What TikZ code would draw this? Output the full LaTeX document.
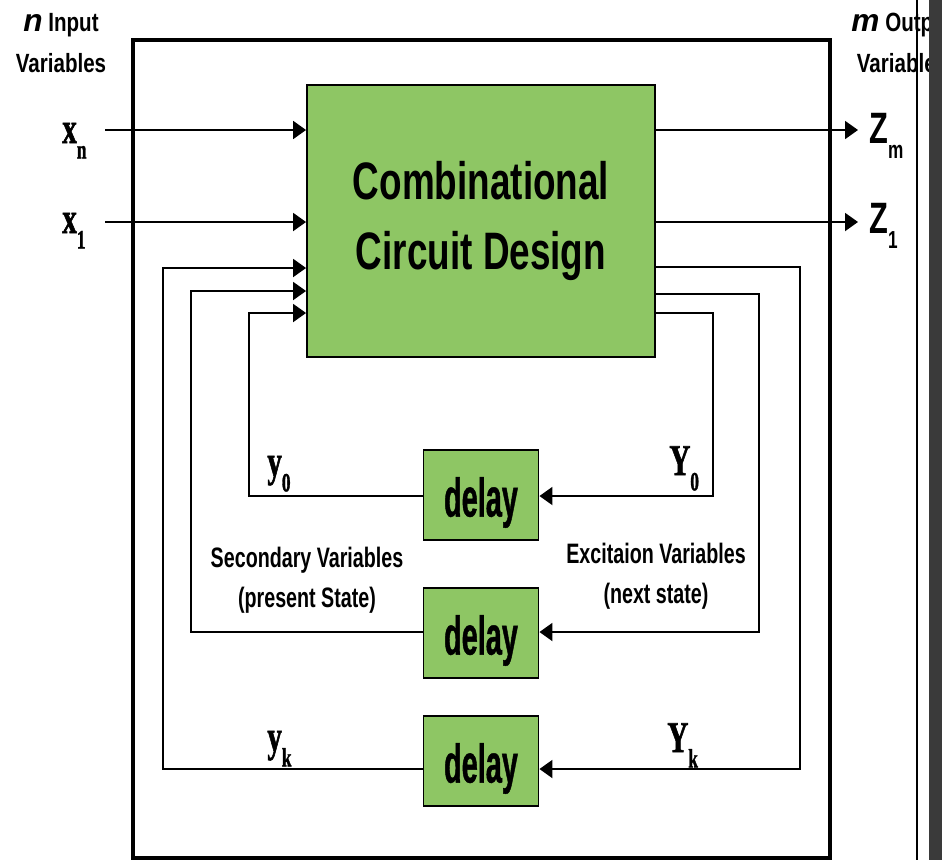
\documentclass[tikz,border=0pt]{standalone}
\usepackage{fontspec}
\setmainfont{Liberation Serif}
\setsansfont{Liberation Sans}
\newfontfamily\narrowsf[FakeStretch=0.70]{Liberation Sans}
\newfontfamily\headsf[FakeStretch=0.78]{Liberation Sans}
\newfontfamily\delaysf[FakeStretch=0.53, FakeBold=0.8]{Liberation Sans}
\newfontfamily\narrowrm[FakeStretch=0.66, FakeBold=1.2]{Liberation Serif}
\usetikzlibrary{arrows.meta}
\definecolor{blockgreen}{RGB}{142,198,100}
\definecolor{stripgray}{RGB}{58,58,58}

% variable name with a lowered index
\newcommand{\varlbl}[3][15]{#2\raisebox{-0.35em}{\fontsize{#1}{#1}\selectfont #3}}

\begin{document}
\begin{tikzpicture}[
        x=0.02cm, y=-0.02cm,
        block/.style={draw, line width=1.1pt, fill=blockgreen, inner sep=0pt},
        delaybox/.style={block, minimum width=2.3cm, minimum height=1.8cm, text height=31pt, text depth=6.5pt,
          font=\delaysf\bfseries\fontsize{31}{31}\selectfont},
        wire/.style={line width=1.1pt},
        rmlbl/.style={anchor=base west, inner sep=0pt, font=\narrowrm\bfseries\fontsize{25}{25}\selectfont},
        sflbl/.style={anchor=base west, inner sep=0pt, font=\narrowsf\bfseries\fontsize{25}{25}\selectfont},
        note/.style={inner sep=0pt, align=center, font=\narrowsf\bfseries\fontsize{16}{22.8}\selectfont},
        >={Triangle[length=0.26cm, width=0.36cm]}
      ]
        \useasboundingbox[fill=white] (0,0) rectangle (942,860);
        \clip (0,0) rectangle (942,860);

        % lanes of the feedback loops
        \def\xA{163} \def\xB{191} \def\xC{249}
        \def\xD{713} \def\xE{759} \def\xF{800}

        % outer frame
        \draw[line width=2.8pt] (133,40) rectangle (830,858);

        % ---- blocks ----
        \node[block, minimum width=6.96cm, minimum height=5.44cm, align=center,
          font=\narrowsf\bfseries\fontsize{30}{40}\selectfont] (comb) at (481,221) {Combinational\\Circuit Design};
        \node[delaybox] (d0) at (481,495) {delay};
        \node[delaybox] (d1) at (481,633) {delay};
        \node[delaybox] (dk) at (481,761) {delay};

        % ---- inputs and outputs ----
        \coordinate (xnin) at (105,130);
        \coordinate (x1in) at (105,222);
        \coordinate (zmout) at (858,130);
        \coordinate (z1out) at (858,222);
        \draw[wire,->] (xnin) -- (comb.west |- xnin);
        \draw[wire,->] (x1in) -- (comb.west |- x1in);
        \draw[wire,->] (comb.east |- zmout) -- (zmout);
        \draw[wire,->] (comb.east |- z1out) -- (z1out);

        \node[rmlbl] (lxn) at (62,143) {\varlbl{x}{n}};
        \node[rmlbl] (lx1) at (62,233) {\varlbl{x}{1}};
        \node[sflbl] (lzm) at (869,143) {\varlbl[14]{Z}{m}};
        \node[sflbl] (lz1) at (869,233) {\varlbl[14]{Z}{1}};

        \node[note, font=\headsf\bfseries\fontsize{15}{23}\selectfont] (inhead) at (61,43)
          {{\sffamily\bfseries\itshape\fontsize{18}{23}\selectfont n} Input\\Variables};
        \node[note, font=\headsf\bfseries\fontsize{15}{23}\selectfont] (outhead) at (902,43)
          {{\sffamily\bfseries\itshape\fontsize{18}{23}\selectfont m} Output\\Variables};

        % ---- feedback loops ----
        \draw[wire,->] (comb.east |- 0,313) -| (\xD,496) -- (d0.east |- 0,496);
        \draw[wire,->] (d0.west |- 0,496) -| (\xC,313) -- (comb.west |- 0,313);

        \draw[wire,->] (comb.east |- 0,294) -| (\xE,632) -- (d1.east |- 0,632);
        \draw[wire,->] (d1.west |- 0,632) -| (\xB,291) -- (comb.west |- 0,291);

        \draw[wire,->] (comb.east |- 0,267) -| (\xF,769) -- (dk.east |- 0,769);
        \draw[wire,->] (dk.west |- 0,769) -| (\xA,268) -- (comb.west |- 0,268);

        \node[rmlbl] (ly0) at (267,476) {\varlbl{y}{0}};
        \node[rmlbl] (lY0) at (669,475) {\varlbl{Y}{0}};
        \node[rmlbl] (lyk) at (267,751) {\varlbl{y}{k}};
        \node[rmlbl] (lYk) at (667,752) {\varlbl{Y}{k}};

        \node[note] (secvar) at (307,580) {Secondary Variables\\(present State)};
        \node[note] (excvar) at (656,576) {Excitaion Variables\\(next state)};

        % right edge of the page
        \draw[line width=1.4pt] (917,0) -- (917,860);
        \fill[stripgray] (929,0) rectangle (942,860);
    \end{tikzpicture}
\end{document}
